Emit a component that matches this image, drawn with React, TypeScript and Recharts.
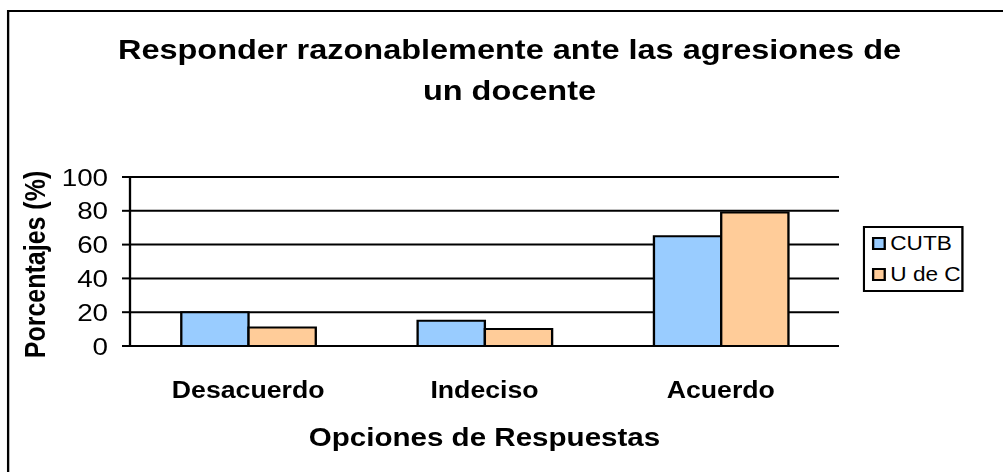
import React from "react";
import {
  BarChart,
  Bar,
  XAxis,
  YAxis,
  CartesianGrid,
  Legend,
  ReferenceLine,
} from "recharts";

// values
const categories = ["Desacuerdo", "Indeciso", "Acuerdo"];
const cutb = [20, 15, 65];
const udec = [11, 10, 79];
const yTicks = [0, 20, 40, 60, 80, 100];
const groupEdges = [0, 1, 2, 3];

const seriesNames = ["CUTB", "U de C"];
const seriesColors = ["#99CCFF", "#FFCC99"];

const data = categories.map((name, i) => ({
  name,
  CUTB: cutb[i],
  "U de C": udec[i],
}));

// the reference is drawn stretched sideways, so the chart is laid out
// narrower and widened with a css scale
const W = 865;
const H = 472;
const SX = 1003 / W;
const FONT = '"Liberation Sans", Arial, sans-serif';
const px = (v: number) => v / SX;

const LegendBox = () => (
  <div
    style={{
      border: "2px solid #000",
      width: px(101),
      height: 66,
      boxSizing: "border-box",
      background: "#fff",
      fontFamily: FONT,
      fontSize: 19.5,
      color: "#000",
      whiteSpace: "nowrap",
      overflow: "visible",
    }}
  >
    {seriesNames.map((name, i) => (
      <div
        key={name}
        style={{
          display: "flex",
          alignItems: "center",
          height: 31,
          paddingLeft: px(7),
        }}
      >
        <span
          style={{
            display: "inline-block",
            flex: "none",
            width: px(14),
            height: 13,
            boxSizing: "border-box",
            border: "2px solid #000",
            background: seriesColors[i],
            marginRight: px(4),
          }}
        />
        <span>{name}</span>
      </div>
    ))}
  </div>
);

export default function App() {
  const black = { stroke: "#000", strokeWidth: 2 };
  return (
    <div
      style={{
        position: "absolute",
        left: 0,
        top: 0,
        width: 1003,
        height: 472,
        overflow: "hidden",
        background: "#fff",
      }}
    >
      <div
        style={{
          position: "relative",
          width: W,
          height: H,
          transform: `scaleX(${SX})`,
          transformOrigin: "0 0",
        }}
      >
        <div
          style={{
            position: "absolute",
            left: px(7.5),
            top: 9.5,
            width: 1000,
            height: 1000,
            border: "2px solid #000",
          }}
        />
        <div
          style={{
            position: "absolute",
            left: px(509.5) - 400,
            width: 800,
            top: 29,
            textAlign: "center",
            fontFamily: FONT,
            fontWeight: "bold",
            fontSize: 28,
            lineHeight: "41px",
            color: "#000",
            whiteSpace: "nowrap",
          }}
        >
          Responder razonablemente ante las agresiones de
          <br />
          un docente
        </div>
        <BarChart
          width={W}
          height={H}
          data={data}
          margin={{ top: 177, right: W - px(839), bottom: 0, left: 0 }}
          barCategoryGap="21.7%"
          barGap={0}
        >
          <CartesianGrid
            xAxisId="cat"
            vertical={false}
            stroke="#000"
            strokeWidth={2}
          />
          <XAxis
            xAxisId="edges"
            type="number"
            domain={[0, 3]}
            ticks={groupEdges}
            tick={false}
            tickSize={10}
            height={0}
            axisLine={black}
            tickLine={black}
          />
          <XAxis
            xAxisId="cat"
            dataKey="name"
            height={126}
            axisLine={false}
            tickLine={false}
            tickSize={0}
            tickMargin={36}
            tick={{
              fill: "#000",
              fontSize: 23,
              fontWeight: "bold",
              fontFamily: FONT,
            }}
            label={{
              value: "Opciones de Respuestas",
              position: "insideTop",
              offset: 82,
              fill: "#000",
              fontSize: 25.5,
              fontWeight: "bold",
              fontFamily: FONT,
            }}
          />
          <YAxis
            width={px(130)}
            domain={[0, 100]}
            ticks={yTicks}
            tickSize={px(8)}
            tickMargin={12}
            axisLine={black}
            tickLine={black}
            tick={{ fill: "#000", fontSize: 24, fontFamily: FONT }}
            label={{
              value: "Porcentajes (%)",
              angle: -90,
              position: "insideLeft",
              offset: px(35),
              dy: 3,
              fill: "#000",
              fontSize: 25,
              fontWeight: "bold",
              fontFamily: FONT,
              style: { textAnchor: "middle" },
            }}
          />
          <ReferenceLine xAxisId="edges" x={3} stroke="#000" strokeWidth={2} />
          <Legend
            layout="vertical"
            align="center"
            verticalAlign="middle"
            wrapperStyle={{ left: px(863), top: 226, width: "auto" }}
            content={<LegendBox />}
          />
          {seriesNames.map((name, i) => (
            <Bar
              key={name}
              xAxisId="cat"
              dataKey={name}
              fill={seriesColors[i]}
              stroke="#000"
              strokeWidth={2}
              isAnimationActive={false}
            />
          ))}
        </BarChart>
      </div>
    </div>
  );
}
